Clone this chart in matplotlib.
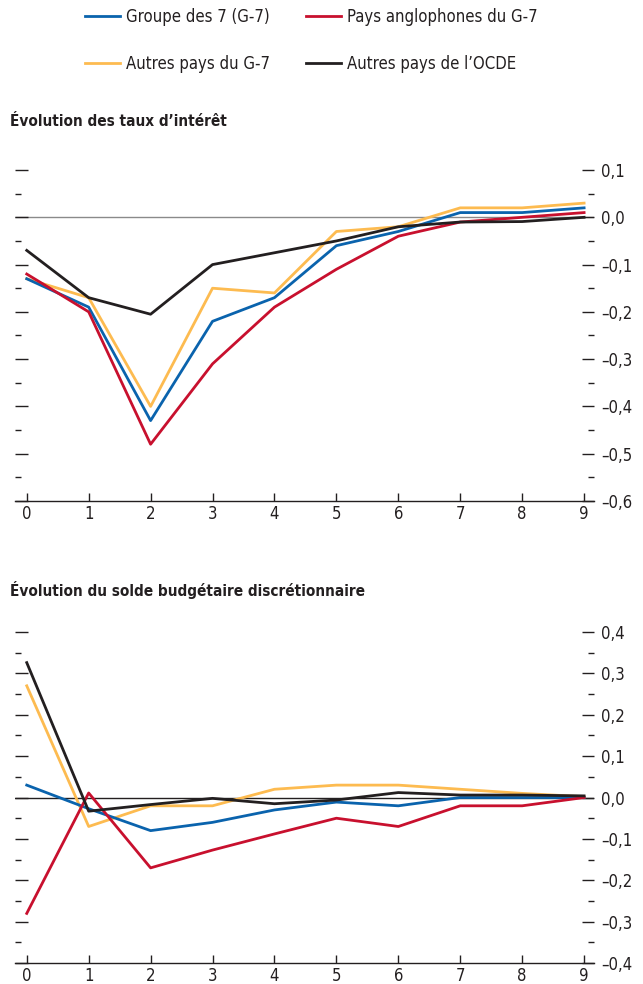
import numpy as np
import matplotlib
matplotlib.use("Agg")
import matplotlib.pyplot as plt
from matplotlib.ticker import MultipleLocator, FuncFormatter

plt.rcParams['font.family'] = ['DejaVu Sans']
plt.rcParams['font.stretch'] = 'condensed'

years = list(range(10))
series_names = ["Groupe des 7 (G-7)", "Pays anglophones du G-7",
                "Autres pays du G-7", "Autres pays de l\u2019OCDE"]
series_colors = ["#0a63ad", "#c8102e", "#fdbb50", "#231f20"]

# taux d'interet
rate_g7 = [-0.13, -0.19, -0.43, -0.22, -0.17, -0.06, -0.03, 0.01, 0.01, 0.02]
rate_anglo = [-0.12, -0.20, -0.48, -0.31, -0.19, -0.11, -0.04, -0.01, 0.00, 0.01]
rate_other_g7 = [-0.13, -0.17, -0.40, -0.15, -0.16, -0.03, -0.02, 0.02, 0.02, 0.03]
rate_oecd = [-0.07, -0.17, -0.205, -0.10, -0.075, -0.05, -0.02, -0.01, -0.009, 0.00]

# solde budgetaire
fisc_g7 = [0.03, -0.027, -0.08, -0.06, -0.03, -0.011, -0.02, 0.0, 0.0, 0.0]
fisc_anglo = [-0.28, 0.011, -0.17, -0.127, -0.088, -0.05, -0.07, -0.02, -0.02, 0.0]
fisc_other_g7 = [0.27, -0.07, -0.02, -0.02, 0.02, 0.03, 0.03, 0.02, 0.01, 0.002]
fisc_oecd = [0.326, -0.033, -0.017, -0.002, -0.015, -0.006, 0.012, 0.006, 0.006, 0.004]

top_title = "\u00c9volution des taux d\u2019int\u00e9r\u00eat"
bottom_title = "\u00c9volution du solde budg\u00e9taire discr\u00e9tionnaire"


def fmt(v, pos):
    s = "%.1f" % v
    if s == "-0.0":
        s = "0.0"
    return s.replace(".", ",").replace("-", "\u2013")


def style_axes(ax, ylo, yhi, zero_color):
    ax.set_xlim(-0.19, 9.16)
    ax.set_ylim(ylo, yhi)
    for s in ["top", "left", "right"]:
        ax.spines[s].set_visible(False)
    ax.spines["bottom"].set_linewidth(1.0)
    ax.spines["bottom"].set_color("#231f20")
    ax.axhline(0, color=zero_color, lw=1.0, zorder=1)
    ax.set_xticks(years)
    ax.tick_params(axis="x", direction="in", length=6, width=1.0,
                   labelsize=12, pad=3, colors="#231f20")
    ax.yaxis.set_major_locator(MultipleLocator(0.1))
    ax.yaxis.set_minor_locator(MultipleLocator(0.05))
    ax.yaxis.set_major_formatter(FuncFormatter(fmt))
    ax.tick_params(axis="y", which="major", left=True, right=True,
                   labelleft=False, labelright=True, direction="in",
                   length=9, width=1.0, labelsize=12, pad=5,
                   colors="#231f20")
    ax.tick_params(axis="y", which="minor", left=True, right=True,
                   direction="in", length=4, width=1.0, colors="#231f20")


fig = plt.figure(figsize=(6.43, 9.84), dpi=100)
ax1 = fig.add_axes([0.0233, 0.4909, 0.9005, 0.3363])
ax2 = fig.add_axes([0.0233, 0.0213, 0.9005, 0.3364])

style_axes(ax1, -0.6, 0.1, "#8a8a8a")
style_axes(ax2, -0.4, 0.4, "#231f20")

top_data = [rate_g7, rate_anglo, rate_other_g7, rate_oecd]
bottom_data = [fisc_g7, fisc_anglo, fisc_other_g7, fisc_oecd]
# dessiner dans l'ordre: jaune, bleu, rouge, noir
order = [2, 0, 1, 3]
lines = {}
for i in order:
    lines[i], = ax1.plot(years, top_data[i], color=series_colors[i], lw=2.0,
                         label=series_names[i], zorder=3)
    ax2.plot(years, bottom_data[i], color=series_colors[i], lw=2.0, zorder=3)

fig.text(0.016, 1 - 122 / 984, top_title, fontsize=11, fontweight="bold",
         va="center", ha="left", color="#231f20")
fig.text(0.016, 1 - 590 / 984, bottom_title, fontsize=11, fontweight="bold",
         va="center", ha="left", color="#231f20")

handles = [lines[0], lines[2], lines[1], lines[3]]
fig.legend(handles, [h.get_label() for h in handles], ncol=2,
           loc="upper left", bbox_to_anchor=(85 / 643, 1 - 8 / 984),
           frameon=False, borderpad=0, borderaxespad=0, fontsize=12,
           handlelength=2.1, handletextpad=0.36, columnspacing=2.15,
           labelspacing=1.75, labelcolor="#231f20")

fig.savefig("out.png", dpi=100)
